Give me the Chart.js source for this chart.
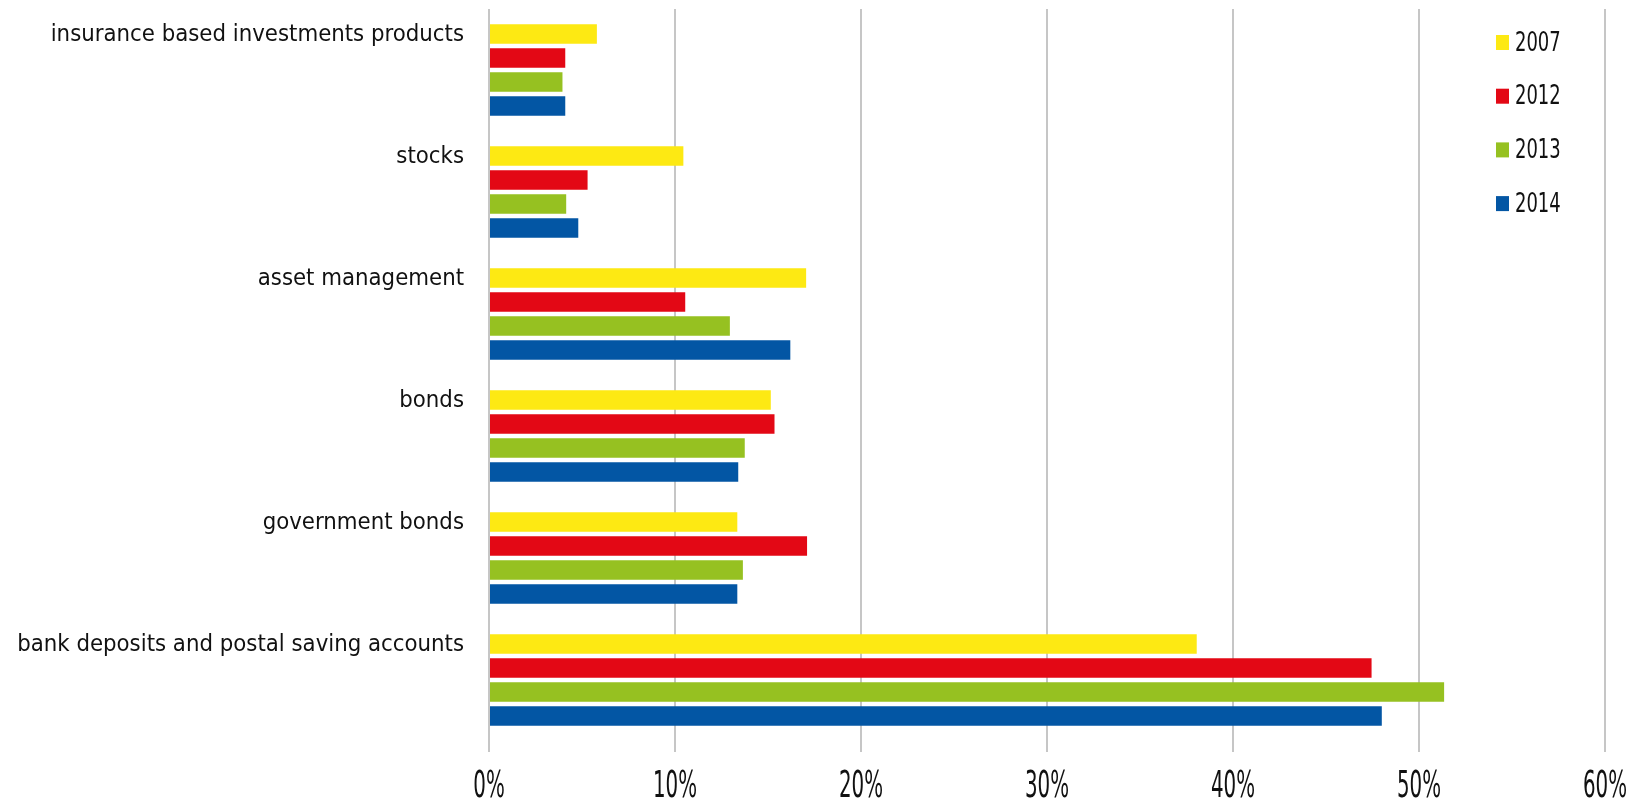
<!DOCTYPE html>
<html>
<head>
<meta charset="utf-8">
<title>Investment products</title>
<script src="https://cdn.jsdelivr.net/npm/chart.js@4/dist/chart.umd.min.js"></script>
<style>
  html, body { margin: 0; padding: 0; background: #fff; }
  #wrap { width: 1637px; height: 803px; position: relative; }
</style>
</head>
<body>
<div id="wrap"><canvas id="chart"></canvas></div>
<script>
const categories = [
  'insurance based investments products',
  'stocks',
  'asset management',
  'bonds',
  'government bonds',
  'bank deposits and postal saving accounts',
]
const years = ['2007', '2012', '2013', '2014']

// shares in percent, same order as categories
const values2007 = [5.8, 10.45, 17.05, 15.15, 13.35, 38.05]
const values2012 = [4.1, 5.3, 10.55, 15.35, 17.1, 47.45]
const values2013 = [3.95, 4.15, 12.95, 13.75, 13.65, 51.35]
const values2014 = [4.1, 4.8, 16.2, 13.4, 13.35, 48.0]

const xTicks = [0, 10, 20, 30, 40, 50, 60]

const colors = ['#fde913', '#e30815', '#96c121', '#0356a4']
const FONT = '"DejaVu Sans Condensed", "Liberation Sans Narrow", sans-serif'

// squeezed text, the canvas has no narrow face for these
const narrowText = (c, text, x, y, squeeze) => {
  c.save()
  c.translate(x, y)
  c.scale(squeeze, 1)
  c.fillText(text, 0, 0)
  c.restore()
}

// legend drawn inside the plot, top right
const sideLegend = {
  id: 'sideLegend',
  afterDraw(chart) {
    const c = chart.ctx
    c.save()
    c.font = '27px ' + FONT
    c.textBaseline = 'middle'
    c.textAlign = 'left'
    chart.data.datasets.forEach((ds, i) => {
      const cy = 42.5 + i * 53.7
      c.fillStyle = ds.backgroundColor
      c.fillRect(1496, cy - 7.5, 13, 15)
      c.fillStyle = '#111'
      narrowText(c, ds.label, 1515, cy + 1, 0.74)
    })
    c.restore()
  },
}

// percent labels under the value axis
const percentLabels = {
  id: 'percentLabels',
  afterDraw(chart) {
    const c = chart.ctx
    const x = chart.scales.x
    c.save()
    c.font = '38px ' + FONT
    c.textBaseline = 'middle'
    c.textAlign = 'center'
    c.fillStyle = '#111'
    xTicks.forEach(v => {
      narrowText(c, v + '%', x.getPixelForValue(v), 787, 0.58)
    })
    c.restore()
  },
}

const ctx = document.getElementById('chart').getContext('2d')

const chart = new Chart(ctx, {
  type: 'bar',
  data: {
    labels: categories,
    datasets: [values2007, values2012, values2013, values2014].map((data, i) => ({
      label: years[i],
      data,
      backgroundColor: colors[i],
      borderWidth: 0,
      categoryPercentage: 0.787,
      barPercentage: 0.81,
    })),
  },
  options: {
    indexAxis: 'y',
    responsive: true,
    maintainAspectRatio: false,
    animation: false,
    layout: { padding: { top: 9, right: 32, left: 0, bottom: 0 } },
    plugins: {
      legend: { display: false },
      tooltip: { enabled: false },
    },
    scales: {
      x: {
        min: 0,
        max: 60,
        afterBuildTicks: scale => {
          scale.ticks = xTicks.map(v => ({ value: v }))
        },
        afterFit: scale => {
          scale.height = 62
          scale.paddingLeft = 0
          scale.paddingRight = 0
        },
        grid: {
          color: '#c6c6c6',
          lineWidth: 2,
          tickLength: 11,
        },
        border: { display: false },
        ticks: { display: false },
      },
      y: {
        afterFit: scale => {
          scale.width = 489
          scale.paddingTop = 0
          scale.paddingBottom = 0
        },
        grid: { display: false },
        border: { display: false },
        ticks: {
          color: '#111',
          padding: 17,
          labelOffset: -35,
          font: { family: FONT, size: 23.7 },
        },
      },
    },
  },
  plugins: [sideLegend, percentLabels],
})
</script>
</body>
</html>
